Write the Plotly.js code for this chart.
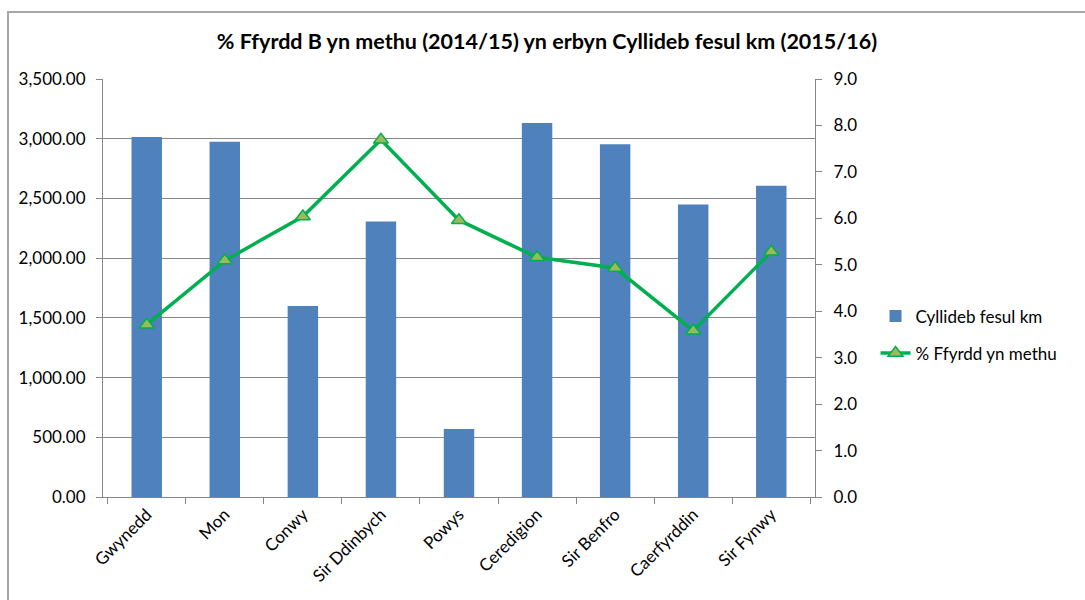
<!DOCTYPE html>
<html>
<head>
<meta charset="utf-8">
<script src="https://cdn.plot.ly/plotly-3.0.1.min.js"></script>
<style>
    body { margin: 0; background: #fff; overflow: hidden; }
    #frame { position: absolute; left: 7px; top: 11px; width: 1100px; height: 600px; border: 2px solid #a6a6a6; }
    #graph { width: 1076px; height: 587px; }
</style>
</head>
<body>
<div id="frame"><div id="graph"></div></div>
<script>
// Data
const siroedd = ['Gwynedd', 'Mon', 'Conwy', 'Sir Ddinbych', 'Powys', 'Ceredigion', 'Sir Benfro', 'Caerfyrddin', 'Sir Fynwy'];
const cyllidebFesulKm = [3014, 2975, 1600, 2306, 569, 3131, 2953, 2450, 2606];
const ffyrddYnMethu = [3.71, 5.09, 6.04, 7.69, 5.96, 5.16, 4.93, 3.58, 5.28];

document.addEventListener('DOMContentLoaded', function() {
    const ffont = 'Lato, "Open Sans", sans-serif';
    const llwyd = '#868686';

    const bariau = {
        x: siroedd, y: cyllidebFesulKm, type: 'bar', name: 'Cyllideb fesul km',
        marker: { color: '#4f81bd' }, yaxis: 'y', legendgroup: 'a'
    };
    const llinell = {
        x: siroedd, y: ffyrddYnMethu, type: 'scatter', mode: 'lines+markers',
        name: '% Ffyrdd yn methu', yaxis: 'y2', legendgroup: 'b',
        line: { color: '#00b050', width: 3.5 },
        marker: { symbol: 'triangle-up', size: 13, color: '#9bbb59', line: { color: '#00b050', width: 1.5 } }
    };

    const layout = {
        title: {
            text: '<b>% Ffyrdd B yn methu (2014/15) yn erbyn Cyllideb fesul km (2015/16)</b>',
            font: { family: ffont, size: 21.5, color: '#000' },
            x: 0.5, xref: 'container', y: 0.952, yref: 'container', yanchor: 'middle'
        },
        font: { family: ffont, size: 17, color: '#000' },
        margin: { l: 94, r: 270, t: 66, b: 103 },
        paper_bgcolor: '#fff', plot_bgcolor: '#fff',
        bargap: 0.61,
        showlegend: true,
        legend: { x: 1.085, xanchor: 'left', y: 0.475, yanchor: 'top', font: { size: 17 },
                  traceorder: 'grouped', tracegroupgap: 12 },
        xaxis: {
            type: 'category', tickangle: -45, showline: true, linecolor: llwyd, linewidth: 1,
            ticks: 'outside', tickson: 'boundaries', ticklen: 6, tickcolor: llwyd, showgrid: false
        },
        yaxis: {
            range: [0, 3500], dtick: 500, tickformat: ',.2f', showline: true, linecolor: llwyd,
            ticks: 'outside', ticklen: 6, tickcolor: llwyd, gridcolor: llwyd, gridwidth: 1, zeroline: false,
            ticklabelstandoff: 7
        },
        yaxis2: {
            range: [0, 9], dtick: 1, tickformat: '.1f', overlaying: 'y', side: 'right', showline: true,
            linecolor: llwyd, ticks: 'outside', ticklen: 6, tickcolor: llwyd, showgrid: false, zeroline: false,
            ticklabelstandoff: 8
        }
    };

    Plotly.newPlot('graph', [bariau, llinell], layout, { displayModeBar: false });
});
</script>
</body>
</html>
